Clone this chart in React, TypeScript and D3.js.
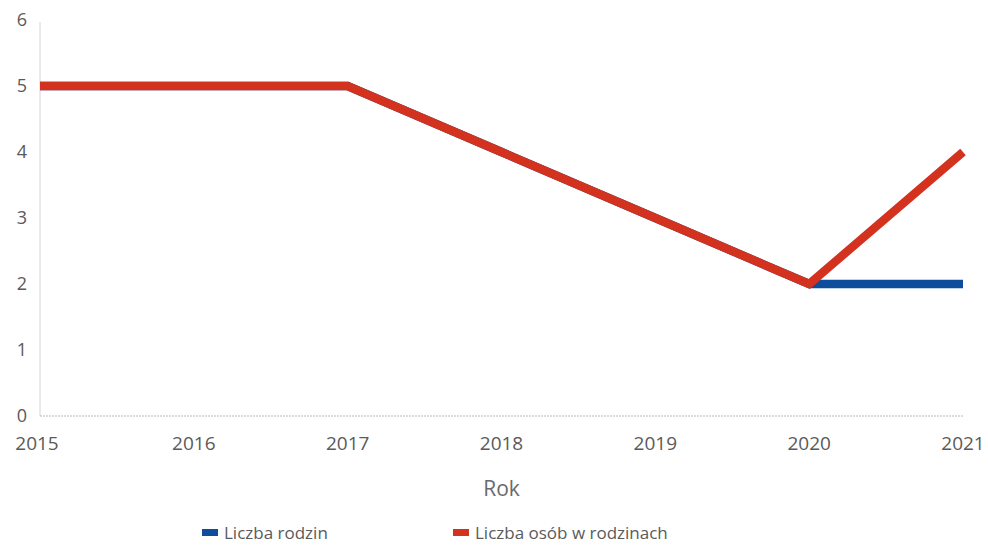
import React, { useEffect, useRef } from 'react';
import * as d3 from 'd3';

const years = [2015, 2016, 2017, 2018, 2019, 2020, 2021];
const families = [5, 5, 5, 4, 3, 2, 2];
const persons = [5, 5, 5, 4, 3, 2, 4];
const yTicks = [0, 1, 2, 3, 4, 5, 6];
const seriesNames = ['Liczba rodzin', 'Liczba osób w rodzinach'];
const seriesColors = ['#0e4d9c', '#d3321f'];

const App = () => {
  const svgRef = useRef<SVGSVGElement>(null);

  useEffect(() => {
    const width = 988;
    const height = 548;
    const m = { left: 40, right: 25, top: 20, bottom: 132 };

    const svg = d3.select(svgRef.current);
    svg.selectAll('*').remove();

    const x = d3.scaleLinear().domain([2015, 2021]).range([m.left, width - m.right]);
    const y = d3.scaleLinear().domain([0, 6]).range([height - m.bottom, m.top]);

    const font = "'Open Sans', sans-serif";
    const textColor = '#5a5a5a';

    // axis lines
    svg.append('line')
      .attr('x1', m.left).attr('x2', m.left)
      .attr('y1', y(6) + 2).attr('y2', y(0))
      .attr('stroke', '#d4d4d4').attr('stroke-width', 1);
    svg.append('line')
      .attr('x1', m.left).attr('x2', width - m.right)
      .attr('y1', y(0)).attr('y2', y(0))
      .attr('stroke', '#b8b8b8').attr('stroke-width', 1)
      .attr('stroke-dasharray', '2,1');

    svg.append('g')
      .selectAll('text')
      .data(yTicks)
      .join('text')
      .attr('x', 27)
      .attr('y', d => y(d))
      .attr('dy', '0.35em')
      .attr('text-anchor', 'end')
      .attr('font-family', font)
      .attr('font-size', 18)
      .attr('fill', textColor)
      .text(d => d);

    svg.append('g')
      .selectAll('text')
      .data(years)
      .join('text')
      .attr('x', d => x(d) - (d === 2015 ? 3 : 0))
      .attr('y', y(0) + 34)
      .attr('text-anchor', 'middle')
      .attr('font-family', font)
      .attr('font-size', 19)
      .attr('fill', textColor)
      .text(d => d);

    svg.append('text')
      .attr('x', (m.left + width - m.right) / 2)
      .attr('y', y(0) + 80)
      .attr('text-anchor', 'middle')
      .attr('font-family', font)
      .attr('font-size', 21)
      .attr('fill', '#6a6a6a')
      .text('Rok');

    const line = d3.line<number>()
      .x((d, i) => x(years[i]))
      .y(d => y(d));

    [families, persons].forEach((s, i) => {
      svg.append('path')
        .datum(s)
        .attr('d', line)
        .attr('fill', 'none')
        .attr('stroke', seriesColors[i])
        .attr('stroke-width', 8.5)
        .attr('stroke-linejoin', 'miter');
    });

    const legendX = [202, 453];
    const lg = svg.append('g').selectAll('g')
      .data(seriesNames)
      .join('g')
      .attr('transform', (d, i) => `translate(${legendX[i]}, 533)`);
    lg.append('rect')
      .attr('x', 0).attr('y', -4)
      .attr('width', 16).attr('height', 7)
      .attr('fill', (d, i) => seriesColors[i]);
    lg.append('text')
      .attr('x', 22)
      .attr('dy', '0.35em')
      .attr('font-family', font)
      .attr('font-size', 17)
      .attr('fill', textColor)
      .text(d => d);
  }, []);

  return (
    <svg ref={svgRef} width={988} height={548} style={{ position: 'absolute', left: 0, top: 0, background: '#fff' }} />
  );
};

export default App;
